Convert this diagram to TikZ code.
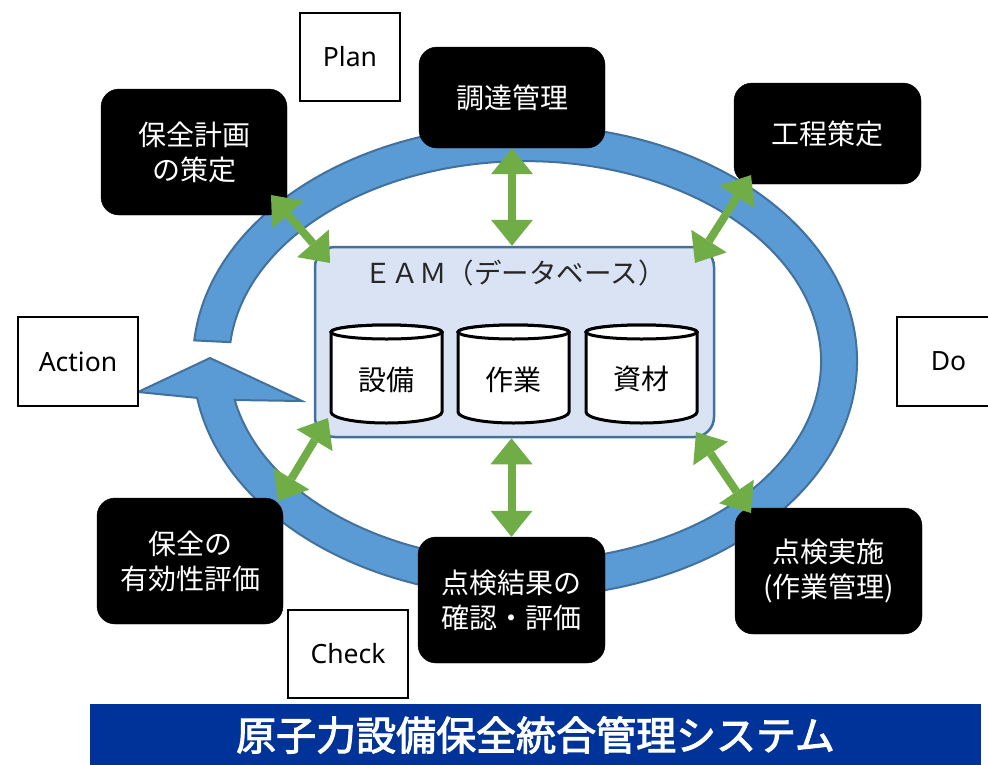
\documentclass[tikz,border=0pt]{standalone}
\usepackage{fontspec}
\setmainfont{Noto Sans CJK JP}[AutoFakeBold=2.5]
\newfontfamily\latinfont{Noto Sans}
\usetikzlibrary{arrows.meta,calc}
\definecolor{ringfill}{HTML}{5B9BD5}
\definecolor{ringline}{HTML}{41719C}
\definecolor{eamfill}{HTML}{DAE3F3}
\definecolor{arrowgreen}{HTML}{70AD47}
\definecolor{titleblue}{HTML}{003399}
\begin{document}
\begin{tikzpicture}[x=1pt,y=-1pt,
  blackbox/.style={draw=black, fill=black, text=white, rounded corners=18pt,
    minimum width=186pt, inner sep=0pt, align=center,
    font=\fontsize{28}{35}\selectfont},
  pdcabox/.style={draw=black, fill=white, line width=1.8pt, inner sep=0pt,
    minimum width=120pt, minimum height=88pt, font=\latinfont\fontsize{26.5}{30}\selectfont},
  eambox/.style={draw=ringline, fill=eamfill, line width=2.5pt, rounded corners=20pt,
    minimum width=399pt, minimum height=190pt, inner sep=0pt},
  cyl/.style={draw=black, fill=white, line width=3pt},
  cyltext/.style={font=\fontsize{28}{30}\selectfont},
  garrow/.style={draw=arrowgreen, line width=8pt,
    {Triangle[width=42pt,length=26pt,line width=0pt]}-{Triangle[width=42pt,length=26pt,line width=0pt]}}
]
\clip (0,0) rectangle (988,764);
\fill[white] (0,0) rectangle (988,764);

% cycle ring
\filldraw[fill=ringfill, draw=ringline, line width=2pt, line join=miter]
  (194.3,340.4) arc[start angle=185, end angle=531, x radius=332, y radius=236]
  -- (138,392) -- (210,358) -- (302,401) -- (234.7,400)
  arc[start angle=528.8, end angle=185.45, x radius=296, y radius=200] -- cycle;

% PDCA labels
\node[pdcabox, minimum width=100pt] (plan) at (350,57) {Plan};
\node[pdcabox, minimum height=89pt] (action) at (78,361.5) {Action};
\node[pdcabox, minimum width=103pt, minimum height=89pt] (do) at (948.5,361.5) {Do};
\node[pdcabox] (check) at (348,654) {Check};

% EAM database box
\node[eambox] (eam) at (514.5,342) {};
\node[font=\fontsize{27.5}{30}\selectfont, text=black!85] (eamlabel) at (515,273) {ＥＡＭ（データベース）};

% cylinders
\filldraw[cyl] (331,332) -- (331,412) arc[start angle=180,end angle=0,x radius=55.5,y radius=11]
  -- (442,332) arc[start angle=0,end angle=-180,x radius=55.5,y radius=7] -- cycle;
\draw[cyl] (386.5,332) ellipse[x radius=55.5, y radius=7];
\node[cyltext] (setsubi) at (386.5,380) {設備};

\filldraw[cyl] (458,332) -- (458,412) arc[start angle=180,end angle=0,x radius=55.5,y radius=11]
  -- (569,332) arc[start angle=0,end angle=-180,x radius=55.5,y radius=7] -- cycle;
\draw[cyl] (513.5,332) ellipse[x radius=55.5, y radius=7];
\node[cyltext] (sagyo) at (513.5,380) {作業};

\filldraw[cyl] (586,332) -- (586,412) arc[start angle=180,end angle=0,x radius=55.5,y radius=11]
  -- (697,332) arc[start angle=0,end angle=-180,x radius=55.5,y radius=7] -- cycle;
\draw[cyl] (641.5,332) ellipse[x radius=55.5, y radius=7];
\node[cyltext] (shizai) at (641.5,379) {資材};

% black process boxes
\node[blackbox, minimum height=126pt] (hozen) at (194,152) {保全計画\\の策定};
\node[blackbox, minimum height=101pt] (chotatsu) at (512,97.5) {調達管理};
\node[blackbox, minimum width=187pt, minimum height=101pt] (kotei) at (827.5,133.5) {工程策定};
\node[blackbox, minimum width=187pt, minimum height=126pt] (tenken) at (828.5,571) {点検実施\\(作業管理)};
\node[blackbox, minimum width=187pt, minimum height=126pt] (kekka) at (511.5,600) {点検結果の\\確認・評価};
\node[blackbox, minimum height=126pt] (yuko) at (190,561) {保全の\\有効性評価};

% green double arrows
\coordinate (p1) at (271,195);
\coordinate (p2) at (330,263);
\coordinate (k1) at (751,175);
\coordinate (k2) at (695,263);
\coordinate (y1) at (328,418);
\coordinate (y2) at (278,501);
\coordinate (t1) at (696,432);
\coordinate (t2) at (751,513);
\draw[garrow] (p1) -- (p2);
\draw[garrow] (chotatsu.south) -- (chotatsu.south |- eam.north);
\draw[garrow] (k1) -- (k2);
\draw[garrow] (y1) -- (y2);
\draw[garrow] (kekka.north |- eam.south) -- (kekka.north);
\draw[garrow] (t1) -- (t2);

% title banner
\node[fill=titleblue, text=white, minimum width=891pt, minimum height=62pt, inner sep=0pt,
  font=\bfseries\fontsize{40}{40}\selectfont] (title) at (535.5,735) {原子力設備保全統合管理システム};
\end{tikzpicture}
\end{document}
